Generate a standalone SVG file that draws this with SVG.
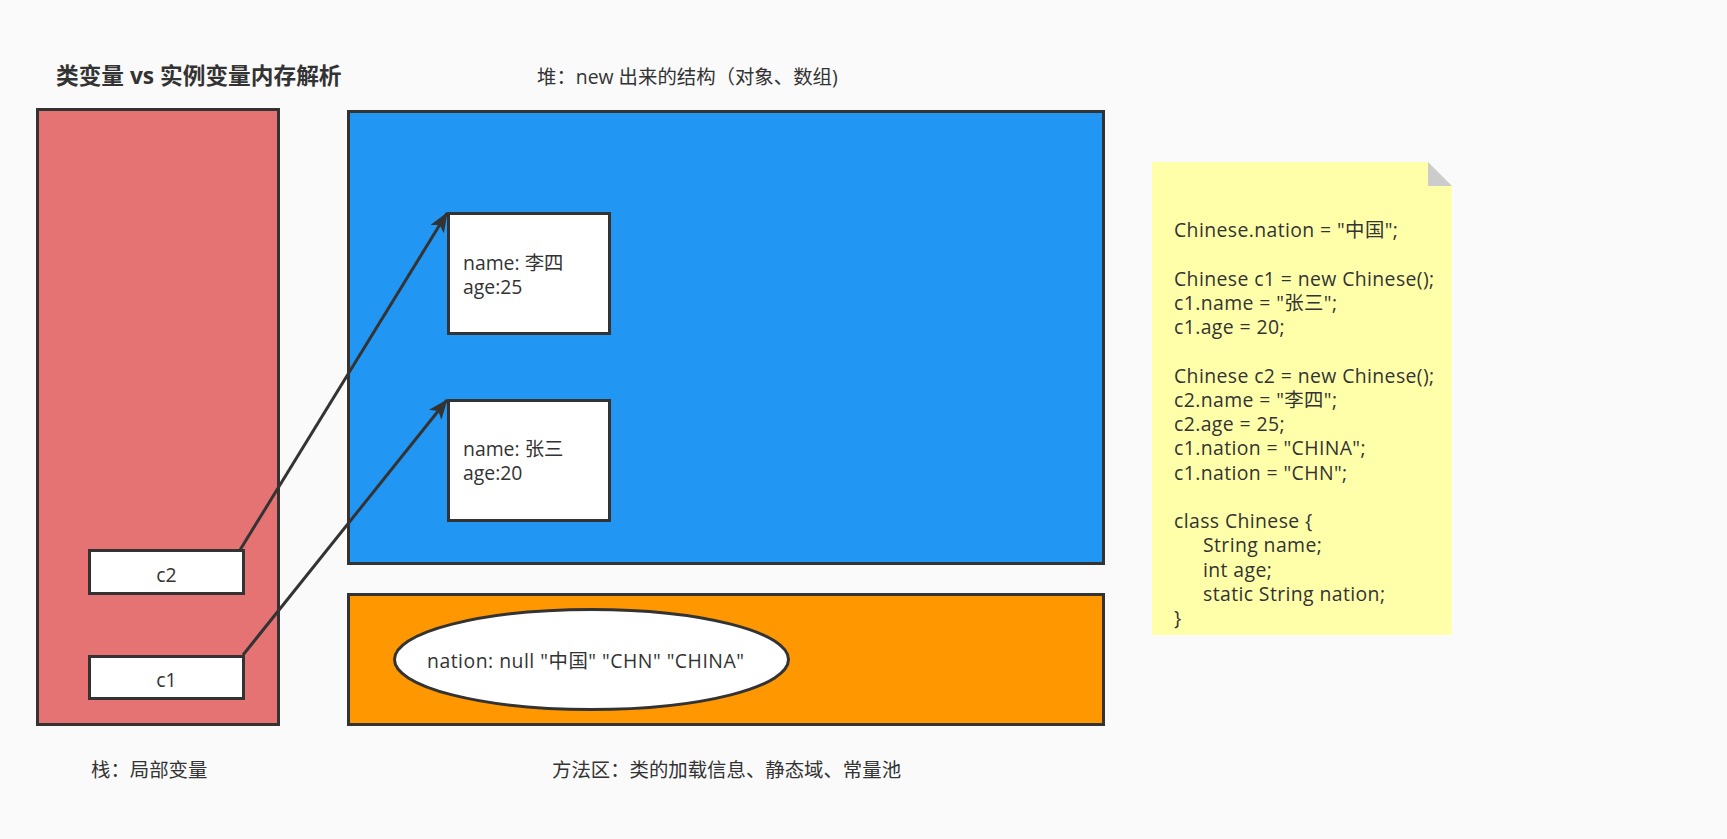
<svg xmlns="http://www.w3.org/2000/svg" width="1727" height="839" viewBox="0 0 1727 839">
<style>
text{font-family:"Open Sans","Noto Sans CJK SC",sans-serif;font-size:19.4px;fill:#333333;}
.title{font-weight:bold;font-size:22.7px;}
.code{letter-spacing:0.4px;}
.oval{letter-spacing:0.5px;}
.box{stroke:#333333;stroke-width:3;}
.white{fill:#ffffff;stroke:#333333;stroke-width:3;}
.conn{stroke:#333333;stroke-width:3;fill:none;}
</style>
<defs>
<marker id="arrow" markerWidth="20" markerHeight="16" refX="19" refY="8" orient="auto" markerUnits="userSpaceOnUse" viewBox="0 0 20 16">
<path d="M0,0 L20,8 L0,16 L5,8 Z" fill="#333333"/>
</marker>
</defs>
<rect x="0" y="0" width="1727" height="839" fill="#fafafa"/>
<g id="title"><text class="title" x="56" y="84">类变量 vs 实例变量内存解析</text></g>
<g id="heap-label"><text x="537" y="84">堆：new 出来的结构（对象、数组)</text></g>
<g id="stack">
<rect class="box" x="37.5" y="109.5" width="241" height="615" fill="#e57373"/>
</g>
<g id="heap">
<rect class="box" x="348.5" y="111.5" width="755" height="452" fill="#2196f3"/>
</g>
<g id="method-area">
<rect class="box" x="348.5" y="594.5" width="755" height="130" fill="#ff9800"/>
</g>
<g id="obj-lisi">
<rect class="white" x="448.5" y="213.5" width="161" height="120"/>
<text x="463" y="270">name: 李四</text>
<text x="463" y="294">age:25</text>
</g>
<g id="obj-zhangsan">
<rect class="white" x="448.5" y="400.5" width="161" height="120"/>
<text x="463" y="456">name: 张三</text>
<text x="463" y="480">age:20</text>
</g>
<g id="var-c2">
<rect class="white" x="89.5" y="550.5" width="154" height="43"/>
<text x="166.5" y="582" text-anchor="middle">c2</text>
</g>
<g id="var-c1">
<rect class="white" x="89.5" y="656.5" width="154" height="42"/>
<text x="166.5" y="687" text-anchor="middle">c1</text>
</g>
<g id="nation">
<ellipse cx="591.5" cy="659.5" rx="197" ry="50" fill="#ffffff" stroke="#333333" stroke-width="3"/>
<text class="oval" x="427" y="668">nation: null "中国" "CHN" "CHINA"</text>
</g>
<g id="stack-label"><text x="91" y="777">栈：局部变量</text></g>
<g id="method-label"><text x="552" y="777">方法区：类的加载信息、静态域、常量池</text></g>
<g id="note">
<path d="M1152,162 L1428,162 L1452,186 L1452,635 L1152,635 Z" fill="#ffffaa"/>
<path d="M1428,162 L1452,186 L1428,186 Z" fill="#cccccc"/>
<text class="code" x="1174" y="237">Chinese.nation = "中国";</text>
<text class="code" x="1174" y="285.5">Chinese c1 = new Chinese();</text>
<text class="code" x="1174" y="309.75">c1.name = "张三";</text>
<text class="code" x="1174" y="334">c1.age = 20;</text>
<text class="code" x="1174" y="382.5">Chinese c2 = new Chinese();</text>
<text class="code" x="1174" y="406.75">c2.name = "李四";</text>
<text class="code" x="1174" y="431">c2.age = 25;</text>
<text class="code" x="1174" y="455.25">c1.nation = "CHINA";</text>
<text class="code" x="1174" y="479.5">c1.nation = "CHN";</text>
<text class="code" x="1174" y="528">class Chinese {</text>
<text class="code" x="1203" y="552.25">String name;</text>
<text class="code" x="1203" y="576.5">int age;</text>
<text class="code" x="1203" y="600.75">static String nation;</text>
<text class="code" x="1174" y="625">}</text>
</g>
<g id="connectors">
<line class="conn" x1="240" y1="550" x2="447" y2="213" marker-end="url(#arrow)"/>
<line class="conn" x1="243" y1="655" x2="447" y2="400" marker-end="url(#arrow)"/>
</g>
</svg>
